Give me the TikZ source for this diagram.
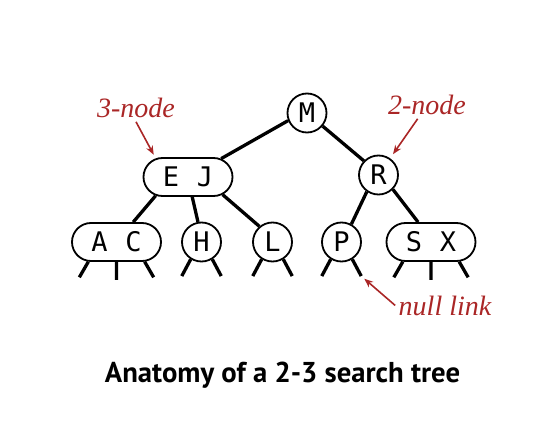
\documentclass[tikz,border=0pt]{standalone}
\usepackage{fontspec}
\usetikzlibrary{arrows.meta,shapes.misc}
\newfontfamily\keyfont[WordSpace=1.09]{DejaVu Sans Mono}
\newfontfamily\capfont{PT Sans}
\newfontfamily\notefont{Liberation Serif}
\definecolor{notered}{RGB}{170,38,38}
\tikzset{>={Stealth[length=9pt,width=7pt]}}
\tikzset{
  two/.style={draw,circle,line width=1.8pt,fill=white,minimum size=39pt,
    inner sep=0pt,font=\keyfont\fontsize{27}{27}\selectfont},
  three/.style={draw,rounded rectangle,line width=1.8pt,fill=white,
    minimum width=89pt,minimum height=38pt,inner sep=0pt,
    font=\keyfont\fontsize{27}{27}\selectfont},
  link/.style={line width=3.3pt},
  note/.style={text=notered,font=\notefont\itshape\fontsize{28}{28}\selectfont},
  pointer/.style={->,draw=notered,line width=1.6pt}
}
\newcommand*{\nullpair}[1]
  {\draw[link] (#1.-122) -- +(-118:19) coordinate (#1-l)
               (#1.-58) -- +(-62:19) coordinate (#1-r)}
\newcommand*{\nulltriple}[1]
  {\draw[link] (#1.-145) -- +(-120:18) (#1.south) -- +(0,-18)
               (#1.-35) -- +(-60:18)}

\begin{document}
\begin{tikzpicture}[x=1pt,y=1pt]
\useasboundingbox (0,0) rectangle (544,440);

% Keys of the tree
\node[two] (M) at (307,327) {M};
\node[three] (EJ) at (188,263) {E J};
\node[two] (R) at (378.5,265) {R};
\node[three] (AC) at (116.5,198) {A C};
\node[two] (H) at (201.5,198) {H};
\node[two] (L) at (272.5,198) {L};
\node[two] (P) at (341.5,198) {P};
\node[three] (SX) at (431,198) {S X};

% Links between keys
\draw[link] (M.-158) -- (EJ.29);
\draw[link] (M.-40) -- (R.136);
\draw[link] (EJ.-150) -- (AC.50);
\draw[link] (EJ.-78) -- (H.100);
\draw[link] (EJ.-27) -- (L.130);
\draw[link] (R.-125) -- (P.61);
\draw[link] (R.-45) -- (SX.123);

% Null links
\nulltriple{AC};
\nullpair{H};
\nullpair{L};
\nullpair{P};
\nulltriple{SX};

% Notes
\node[note,anchor=base] (three) at (136,322) {3-node};
\node[note,anchor=base] (twonode) at (427,325) {2-node};
\node[note,anchor=base] (nulltxt) at (445,125) {null link};
\draw[pointer,shorten >=4pt] (three.south) -- (EJ.150);
\draw[pointer,shorten >=5pt] (twonode) -- (R);
\draw[pointer,shorten >=4pt] (nulltxt.west) -- (P-r);

\node[anchor=base,font=\capfont\bfseries\fontsize{28.7}{28.7}\selectfont]
  (caption) at (282.5,58) {Anatomy of a 2-3 search tree};
\end{tikzpicture}
\end{document}
